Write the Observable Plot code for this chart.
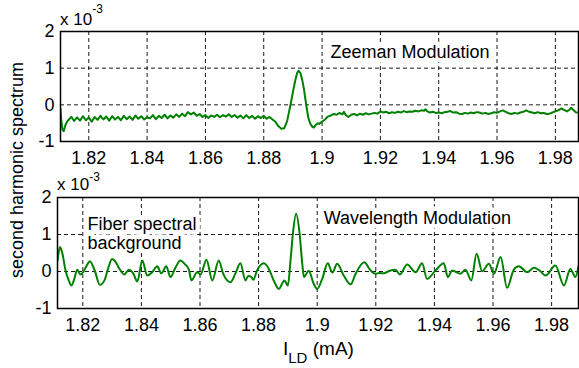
<!DOCTYPE html>
<html><head><meta charset="utf-8">
<script src="https://cdn.jsdelivr.net/npm/d3@7"></script>
<script src="https://cdn.jsdelivr.net/npm/@observablehq/plot@0.6"></script>
<style>
body{margin:0;background:#fff;}
#wrap{position:relative;width:579px;height:368px;overflow:hidden;background:#fff;}
.abs{position:absolute;}
</style></head><body>
<div id="wrap">
  <div id="top" class="abs" style="left:0;top:0"></div>
  <div id="bot" class="abs" style="left:0;top:178px"></div>
  <svg class="abs" style="left:0;top:0;pointer-events:none" width="579" height="368" font-family="Liberation Sans, Arial, Helvetica, sans-serif" fill="#000">
    <text x="60" y="25" font-size="17">x 10<tspan dy="-12" font-size="12">-3</tspan></text>
    <text x="57" y="190" font-size="17">x 10<tspan dy="-9" font-size="12">-3</tspan></text>
    <text transform="translate(23,170) rotate(-90)" text-anchor="middle" font-size="18">second harmonic spectrum</text>
    <text x="283" y="355" font-size="19">I<tspan font-size="15" dy="8">LD</tspan><tspan font-size="19" dy="-8"> (mA)</tspan></text>
  </svg>
</div>
<script>
// ---- data ----
const xTicks = [1.82, 1.84, 1.86, 1.88, 1.90, 1.92, 1.94, 1.96, 1.98];
const xTickLabels = ["1.82", "1.84", "1.86", "1.88", "1.9", "1.92", "1.94", "1.96", "1.98"];
const yTicks = [-1, 0, 1, 2];
const yTickLabels = ["-1", "0", "1", "2"];

// Zeeman modulation (x 1e-3)
const zeemanCurrent = [
  1.8103, 1.8106, 1.8110, 1.8114, 1.8120, 1.8126, 1.8132, 1.814, 1.815, 1.816,
  1.817, 1.818, 1.819, 1.820, 1.821, 1.822, 1.823, 1.824, 1.825, 1.826,
  1.827, 1.828, 1.829, 1.830, 1.831, 1.832, 1.833, 1.834, 1.835, 1.836,
  1.837, 1.838, 1.839, 1.840, 1.841, 1.842, 1.843, 1.844, 1.845, 1.846,
  1.847, 1.848, 1.849, 1.850, 1.851, 1.852, 1.853, 1.854, 1.855, 1.856,
  1.857, 1.858, 1.859, 1.860, 1.861, 1.862, 1.863, 1.864, 1.865, 1.866,
  1.867, 1.868, 1.869, 1.870, 1.871, 1.872, 1.873, 1.874, 1.875, 1.876,
  1.877, 1.878, 1.879, 1.880, 1.881, 1.882, 1.883, 1.884, 1.885, 1.886,
  1.887, 1.888, 1.8886, 1.8893, 1.8900, 1.8909, 1.8915, 1.8920, 1.8926, 1.8932,
  1.8938, 1.8943, 1.8948, 1.8953, 1.8960, 1.8967, 1.8972, 1.8978, 1.8985, 1.899,
  1.900, 1.901, 1.902, 1.903, 1.904, 1.905, 1.906, 1.907, 1.9075, 1.908,
  1.909, 1.910, 1.911, 1.912, 1.913, 1.914, 1.915, 1.916, 1.917, 1.918,
  1.919, 1.920, 1.921, 1.922, 1.923, 1.924, 1.925, 1.926, 1.927, 1.928,
  1.929, 1.930, 1.931, 1.932, 1.933, 1.934, 1.935, 1.9355, 1.936, 1.937,
  1.938, 1.939, 1.940, 1.941, 1.942, 1.943, 1.944, 1.945, 1.946, 1.947,
  1.948, 1.949, 1.950, 1.951, 1.952, 1.953, 1.954, 1.955, 1.956, 1.957,
  1.958, 1.959, 1.960, 1.961, 1.962, 1.963, 1.964, 1.965, 1.966, 1.967,
  1.968, 1.969, 1.970, 1.971, 1.972, 1.973, 1.974, 1.975, 1.976, 1.977,
  1.978, 1.979, 1.980, 1.981, 1.982, 1.983, 1.984, 1.985, 1.9855, 1.986,
  1.987, 1.9879
];
const zeemanSignal = [
  -0.10, -0.45, -0.68, -0.72, -0.55, -0.45, -0.40, -0.33, -0.44, -0.34,
  -0.43, -0.31, -0.42, -0.35, -0.46, -0.33, -0.41, -0.30, -0.40, -0.32,
  -0.43, -0.31, -0.40, -0.33, -0.42, -0.30, -0.39, -0.32, -0.41, -0.29,
  -0.38, -0.31, -0.40, -0.34, -0.37, -0.28, -0.39, -0.30, -0.36, -0.27,
  -0.37, -0.29, -0.35, -0.26, -0.33, -0.24, -0.31, -0.20, -0.26, -0.21,
  -0.30, -0.25, -0.33, -0.28, -0.36, -0.29, -0.33, -0.27, -0.34, -0.28,
  -0.32, -0.26, -0.33, -0.28, -0.35, -0.29, -0.37, -0.28, -0.36, -0.30,
  -0.38, -0.31, -0.36, -0.30, -0.38, -0.33, -0.40, -0.46, -0.58, -0.65,
  -0.64, -0.45, -0.22, 0.05, 0.35, 0.70, 0.88, 0.93, 0.86, 0.68,
  0.42, 0.14, -0.12, -0.36, -0.52, -0.60, -0.62, -0.55, -0.50, -0.52,
  -0.46, -0.40, -0.32, -0.29, -0.25, -0.27, -0.22, -0.26, -0.19, -0.27,
  -0.33, -0.27, -0.25, -0.29, -0.24, -0.27, -0.23, -0.26, -0.24, -0.22,
  -0.24, -0.18, -0.21, -0.19, -0.23, -0.20, -0.22, -0.19, -0.21, -0.17,
  -0.20, -0.18, -0.19, -0.16, -0.18, -0.15, -0.16, -0.12, -0.17, -0.21,
  -0.19, -0.22, -0.21, -0.23, -0.20, -0.19, -0.17, -0.21, -0.20, -0.24,
  -0.25, -0.22, -0.24, -0.21, -0.23, -0.20, -0.21, -0.24, -0.22, -0.25,
  -0.23, -0.20, -0.22, -0.18, -0.15, -0.19, -0.23, -0.25, -0.22, -0.24,
  -0.21, -0.19, -0.15, -0.19, -0.21, -0.23, -0.20, -0.23, -0.22, -0.25,
  -0.24, -0.21, -0.18, -0.15, -0.10, -0.14, -0.18, -0.12, -0.08, -0.13,
  -0.20, -0.21
];

// Wavelength modulation (x 1e-3)
const wmsCurrent = [
  1.8114, 1.8122, 1.8130, 1.8141, 1.8151, 1.8161, 1.8171, 1.8181, 1.8192, 1.8201,
  1.8212, 1.8224, 1.8241, 1.8258, 1.8274, 1.8287, 1.8300, 1.8312, 1.8323, 1.8342,
  1.8357, 1.8372, 1.8386, 1.8403, 1.8420, 1.8437, 1.8454, 1.8468, 1.8485, 1.8499,
  1.8516, 1.8533, 1.8548, 1.8562, 1.8571, 1.8590, 1.8602, 1.8622, 1.8642, 1.8664,
  1.8679, 1.8704, 1.8721, 1.8738, 1.8755, 1.8765, 1.8775, 1.8782, 1.8795, 1.8818,
  1.8835, 1.8852, 1.8869, 1.8888, 1.8900, 1.8909, 1.8917, 1.8928, 1.8940, 1.8949,
  1.8955, 1.8971, 1.8988, 1.9000, 1.9017, 1.9036, 1.9052, 1.9068, 1.9090, 1.9114,
  1.9131, 1.9161, 1.9180, 1.9199, 1.9213, 1.9227, 1.9247, 1.9267, 1.9282, 1.9307,
  1.9336, 1.9358, 1.9375, 1.9404, 1.9432, 1.9446, 1.9461, 1.9489, 1.9506, 1.9526,
  1.9544, 1.9563, 1.9586, 1.9603, 1.9626, 1.9648, 1.9671, 1.9688, 1.9717, 1.9739,
  1.9760, 1.9779, 1.9813, 1.9842, 1.9864, 1.9881, 1.9892
];
const wmsSignal = [
  0.30, 0.66, 0.50, 0.03, -0.22, -0.38, -0.20, 0.05, -0.08, -0.02,
  0.14, 0.28, 0.02, -0.36, -0.24, 0.10, 0.34, 0.26, 0.10, -0.08,
  0.05, -0.05, -0.27, 0.30, -0.11, -0.02, 0.14, -0.05, 0.14, -0.15,
  0.10, 0.30, 0.20, 0.05, -0.24, -0.02, -0.08, 0.32, -0.24, 0.30,
  -0.06, -0.29, -0.05, 0.22, -0.24, -0.12, -0.15, -0.22, 0.03, 0.22,
  0.07, -0.25, -0.47, -0.24, -0.38, 0.30, 1.02, 1.56, 1.02, 0.21,
  -0.15, 0.02, -0.33, -0.47, -0.20, 0.22, -0.03, 0.21, -0.10, -0.35,
  -0.06, 0.25, 0.05, -0.06, -0.04, -0.05, 0.02, 0.05, -0.08, 0.19,
  -0.02, 0.22, -0.20, 0.03, 0.22, -0.15, 0.03, -0.06, 0.05, -0.24,
  0.48, 0.01, 0.21, -0.06, 0.39, -0.44, 0.05, 0.14, -0.02, 0.10,
  0.02, -0.11, 0.16, -0.38, 0.07, -0.15, 0.16
];

const zeemanNote = ["Zeeman Modulation"];
const zeemanNoteX = [1.9029];
const zeemanNoteY = [1.44];
const wmsNotes = ["Fiber spectral\nbackground", "Wavelength Modulation"];
const wmsNotesX = [1.8216, 1.9022];
const wmsNotesY = [1.04, 1.46];

// ---- build ----
const FONT = "Liberation Sans, Arial, Helvetica, sans-serif";
const GREEN = "#008000";
const zeeman = zeemanCurrent.map((x, i) => ({x, y: zeemanSignal[i]}));
const wms = wmsCurrent.map((x, i) => ({x, y: wmsSignal[i]}));
const zNotes = zeemanNote.map((t, i) => ({t, x: zeemanNoteX[i], y: zeemanNoteY[i]}));
const wNotes = wmsNotes.map((t, i) => ({t, x: wmsNotesX[i], y: wmsNotesY[i]}));

function panel({data, notes, domain, marginLeft, marginTop, marginBottom, height, curve}) {
  return Plot.plot({
    width: 579, height, marginLeft, marginRight: 1, marginTop, marginBottom,
    style: {fontFamily: FONT, fontSize: "18px", color: "#000", background: "transparent", overflow: "visible"},
    x: {domain, label: null},
    y: {domain: [-1, 2], label: null},
    marks: [
      Plot.gridX(xTicks, {stroke: "#000", strokeOpacity: 0.9, strokeWidth: 1, strokeDasharray: "4,3"}),
      Plot.gridY(yTicks, {stroke: "#000", strokeOpacity: 0.9, strokeWidth: 1, strokeDasharray: "4,3"}),
      Plot.text(notes, {x: "x", y: "y", text: "t", textAnchor: "start", fontSize: 18, lineHeight: 1.06,
        fill: "#000", stroke: "white", strokeWidth: 9, paintOrder: "stroke"}),
      Plot.line(data, {x: "x", y: "y", stroke: GREEN, strokeWidth: 2, curve, clip: true}),
      Plot.frame({stroke: "#000", strokeWidth: 1.5}),
      Plot.axisX(xTicks, {anchor: "bottom", tickSize: 0, tickPadding: 10, label: null,
        tickFormat: d => xTickLabels[xTicks.indexOf(d)], fontSize: 18}),
      Plot.axisY(yTicks, {anchor: "left", tickSize: 0, tickPadding: 6, label: null,
        tickFormat: d => yTickLabels[yTicks.indexOf(d)], fontSize: 18})
    ]
  });
}

document.getElementById("top").append(panel({
  data: zeeman, notes: zNotes, domain: [1.8103, 1.98794],
  marginLeft: 60, marginTop: 31, marginBottom: 37, height: 178, curve: "linear"
}));
document.getElementById("bot").append(panel({
  data: wms, notes: wNotes, domain: [1.811365, 1.98918],
  marginLeft: 57, marginTop: 19, marginBottom: 38, height: 168, curve: "monotone-x"
}));
</script>
</body></html>
